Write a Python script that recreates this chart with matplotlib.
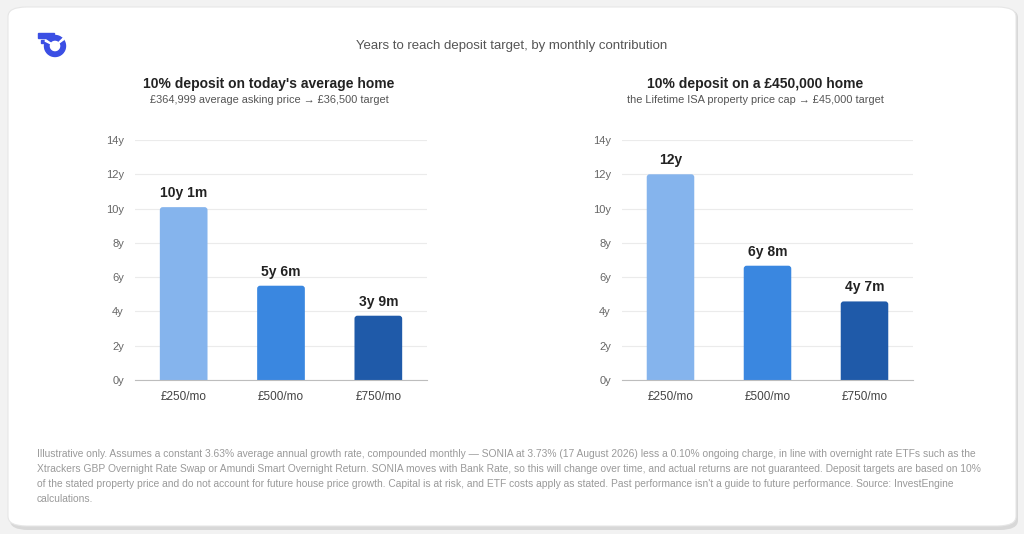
import matplotlib
matplotlib.use("Agg")
import matplotlib.pyplot as plt
from matplotlib.patches import FancyBboxPatch, Wedge, Rectangle

plt.rcParams['font.family'] = ['Liberation Sans', 'DejaVu Sans']

# data
categories = ["£250/mo", "£500/mo", "£750/mo"]
avg_home_years = [10 + 1/12, 5 + 6/12, 3 + 9/12]
avg_home_labels = ["10y 1m", "5y 6m", "3y 9m"]
cap_home_years = [12, 6 + 8/12, 4 + 7/12]
cap_home_labels = ["12y", "6y 8m", "4y 7m"]
yticks = [0, 2, 4, 6, 8, 10, 12, 14]
bar_colors = ["#85b4ed", "#3a87e0", "#1f5aa9"]

W, H = 1024, 534
fig = plt.figure(figsize=(W / 100, H / 100), dpi=100)
fig.patch.set_facecolor("#f2f2f2")

def fx(px):
    return px / W

def fy(py):
    return 1 - py / H

# card with a soft shadow
shadow = FancyBboxPatch((fx(10), fy(530)), fx(1008), 522 / H,
                        boxstyle="round,pad=0,rounding_size=0.018",
                        transform=fig.transFigure, facecolor="#d8d8d8",
                        edgecolor="none", zorder=-3)
card = FancyBboxPatch((fx(8), fy(526)), fx(1008), 519 / H,
                      boxstyle="round,pad=0,rounding_size=0.018",
                      transform=fig.transFigure, facecolor="white",
                      edgecolor="#e6e6e6", linewidth=0.8, zorder=-2)
fig.patches.extend([shadow, card])

# logo
lax = fig.add_axes([fx(34), fy(62), fx(40), 32 / H])
lax.set_xlim(34, 74)
lax.set_ylim(62, 30)
lax.axis("off")
logo_blue = "#3b4fe4"
lax.add_patch(Wedge((55, 46), 10.5, 0, 360, width=4.5, color=logo_blue))
lax.add_patch(Rectangle((38, 33), 16, 4.5, color=logo_blue))
lax.add_patch(Rectangle((41, 39.5), 7, 3.5, color=logo_blue))
for a in (-40, 210):
    lax.add_patch(Wedge((55, 46), 11, a - 4, a + 4, width=6, color="white"))

fig.text(0.5, fy(46), "Years to reach deposit target, by monthly contribution",
         ha="center", va="center", fontsize=9.5, color="#555555")

def panel(x0, x1, title, subtitle, values, labels):
    ax = fig.add_axes([fx(x0), fy(380), fx(x1 - x0), 240 / H])
    ax.set_facecolor("none")
    bars = ax.bar(range(len(categories)), values, width=0.49, color=bar_colors, zorder=3)
    ax.set_xlim(-0.5, 2.5)
    ax.set_ylim(0, 14)
    # rounded tops: x units per px vs y units per px
    aspect = (14 / 240) / (3 / (x1 - x0))
    for b in bars:
        b.set_visible(False)
        rb = FancyBboxPatch((b.get_x(), -1), b.get_width(), b.get_height() + 1,
                            boxstyle="round,pad=0,rounding_size=0.03",
                            mutation_aspect=aspect, facecolor=b.get_facecolor(),
                            edgecolor="none", zorder=3)
        ax.add_patch(rb)
    ax.set_yticks(yticks)
    ax.set_yticklabels([f"{t}y" for t in yticks])
    ax.set_xticks(range(len(categories)))
    ax.set_xticklabels(categories)
    ax.grid(axis="y", color="#ebebeb", linewidth=0.8, zorder=0)
    for s in ("top", "right", "left"):
        ax.spines[s].set_visible(False)
    ax.spines["bottom"].set_color("#bdbdbd")
    ax.spines["bottom"].set_zorder(4)
    ax.tick_params(axis="y", length=0, pad=8, labelsize=8, labelcolor="#666666")
    ax.tick_params(axis="x", length=0, pad=8, labelsize=8.5, labelcolor="#444444")
    for i, (v, lab) in enumerate(zip(values, labels)):
        ax.annotate(lab, (i, v), xytext=(0, 5), textcoords="offset points",
                    ha="center", va="bottom", fontsize=10, fontweight="bold",
                    color="#222222")
    cx = (x0 + x1) / 2 - 12
    fig.text(fx(cx), fy(84), title, ha="center", va="center", fontsize=10,
             fontweight="bold", color="#222222")
    fig.text(fx(cx), fy(100), subtitle, ha="center", va="center", fontsize=7.95,
             color="#555555")
    return ax

panel(135, 427, "10% deposit on today's average home",
      "£364,999 average asking price → £36,500 target",
      avg_home_years, avg_home_labels)
panel(622, 913, "10% deposit on a £450,000 home",
      "the Lifetime ISA property price cap → £45,000 target",
      cap_home_years, cap_home_labels)

footnote = [
    "Illustrative only. Assumes a constant 3.63% average annual growth rate, compounded monthly — SONIA at 3.73% (17 August 2026) less a 0.10% ongoing charge, in line with overnight rate ETFs such as the",
    "Xtrackers GBP Overnight Rate Swap or Amundi Smart Overnight Return. SONIA moves with Bank Rate, so this will change over time, and actual returns are not guaranteed. Deposit targets are based on 10%",
    "of the stated property price and do not account for future house price growth. Capital is at risk, and ETF costs apply as stated. Past performance isn't a guide to future performance. Source: InvestEngine",
    "calculations.",
]
for k, line in enumerate(footnote):
    fig.text(fx(37), fy(454 + k * 15), line, ha="left", va="center",
             fontsize=7.38, color="#9a9a9a")

fig.savefig("out.png", dpi=100, facecolor=fig.get_facecolor())
